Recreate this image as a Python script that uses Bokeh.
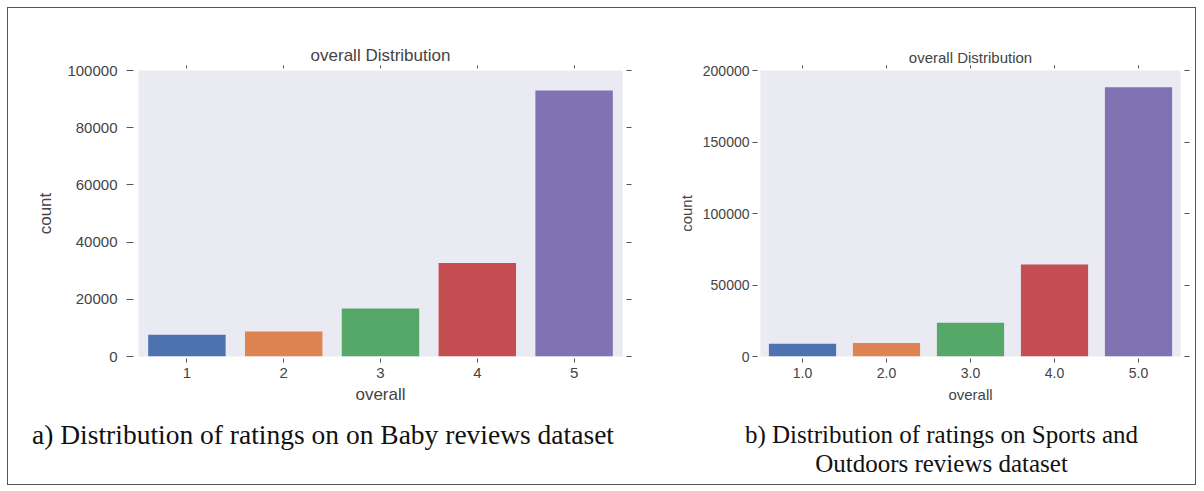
from bokeh.plotting import figure
from bokeh.models import (LinearAxis, CategoricalAxis, Div, FixedTicker,
                          ColumnDataSource, Range1d, NumeralTickFormatter)
from bokeh.layouts import column, row
from bokeh.embed import file_html
from bokeh.resources import INLINE

# ---- data ----
baby_ratings = ["1", "2", "3", "4", "5"]
baby_counts = [7600, 8700, 16800, 32700, 93000]
sports_ratings = ["1.0", "2.0", "3.0", "4.0", "5.0"]
sports_counts = [9000, 9500, 23600, 64300, 188200]
bar_colors = ["#4C72B0", "#DD8452", "#55A868", "#C44E52", "#8172B3"]
baby_yticks = [0, 20000, 40000, 60000, 80000, 100000]
sports_yticks = [0, 50000, 100000, 150000, 200000]
panel_title = "overall Distribution"
x_label = "overall"
y_label = "count"
caption_a = "a) Distribution of ratings on on Baby reviews dataset"
caption_b = ["b) Distribution of ratings on Sports and", "Outdoors reviews dataset"]

FONT = "Liberation Sans"
TXT = "#444444"


def panel(cats, counts, yticks, ymax, width, height, bl, br, bt, bb,
          tick_fs, lab_fs, title_fs, title_standoff, left_tick_len, left_gap,
          ylab_standoff, ylab_label_standoff, xlab_standoff):
    src = ColumnDataSource(dict(cat=cats, count=counts, color=bar_colors))
    p = figure(x_range=cats, y_range=Range1d(0, ymax), width=width, height=height,
               output_backend="svg", toolbar_location=None,
               min_border_left=bl, min_border_right=br, min_border_top=bt,
               min_border_bottom=bb)
    p.vbar(x="cat", top="count", width=0.8, color="color", source=src, line_color=None)
    p.background_fill_color = "#EAEAF2"
    p.border_fill_color = "white"
    p.outline_line_color = None
    p.xgrid.grid_line_color = None
    p.ygrid.grid_line_color = None

    # title
    p.title.text = panel_title
    p.title.align = "center"
    p.title.text_font = FONT
    p.title.text_font_style = "normal"
    p.title.text_font_size = title_fs
    p.title.text_color = TXT
    p.title.standoff = title_standoff

    # left axis
    ya = p.yaxis[0]
    ya.ticker = FixedTicker(ticks=yticks)
    ya.formatter = NumeralTickFormatter(format="0")
    ya.axis_line_color = None
    ya.minor_tick_line_color = None
    ya.major_tick_line_color = "#555555"
    ya.major_tick_in = -left_gap
    ya.major_tick_out = left_gap + left_tick_len
    ya.major_label_standoff = ylab_label_standoff
    ya.major_label_text_font = FONT
    ya.major_label_text_font_size = tick_fs
    ya.major_label_text_color = TXT
    ya.axis_label = y_label
    ya.axis_label_text_font = FONT
    ya.axis_label_text_font_style = "normal"
    ya.axis_label_text_font_size = lab_fs
    ya.axis_label_text_color = TXT
    ya.axis_label_standoff = ylab_standoff

    # bottom axis
    xa = p.xaxis[0]
    xa.axis_line_color = None
    xa.major_tick_line_color = "#555555"
    xa.major_tick_in = -2
    xa.major_tick_out = 6
    xa.major_label_standoff = 5
    xa.major_label_text_font = FONT
    xa.major_label_text_font_size = tick_fs
    xa.major_label_text_color = TXT
    xa.axis_label = x_label
    xa.axis_label_text_font = FONT
    xa.axis_label_text_font_style = "normal"
    xa.axis_label_text_font_size = lab_fs
    xa.axis_label_text_color = TXT
    xa.axis_label_standoff = xlab_standoff

    # mirrored ticks (top / right), no labels
    top = CategoricalAxis(axis_line_color=None, major_tick_line_color="#555555",
                          major_tick_in=-2, major_tick_out=5,
                          major_label_standoff=0,
                          major_label_overrides={c: "" for c in cats},
                          major_label_text_font_size="1px")
    p.add_layout(top, "above")
    right = LinearAxis(ticker=FixedTicker(ticks=yticks), axis_line_color=None,
                       major_tick_line_color="#555555", minor_tick_line_color=None,
                       major_tick_in=-4, major_tick_out=9,
                       major_label_overrides={t: "" for t in yticks},
                       major_label_text_font_size="1px")
    p.add_layout(right, "right")
    return p


# frames in a row are aligned by bokeh: same top/bottom borders for both
pa = panel(baby_ratings, baby_counts, baby_yticks, 100000, 632, 400,
           130, 18, 62, 52, "15px", "17px", "17px", -6, 7, 5, 9, 9, 4)
pb = panel(sports_ratings, sports_counts, sports_yticks, 200000, 555, 400,
           120, 15, 62, 52, "14px", "15px", "15px", -8, 5, 3, 5, 3, 5)

cap_style = {"font-family": "'Liberation Serif', serif", "box-sizing": "border-box",
             "line-height": "29px", "color": "#111111", "text-align": "center",
             "overflow": "hidden"}
da = Div(text=caption_a, width=632, height=76,
         styles=dict(cap_style, **{"padding-top": "7px", "padding-right": "12px",
                                   "font-size": "27.5px"}))
db = Div(text=caption_b[0] + "<br>" + caption_b[1], width=555, height=76,
         styles=dict(cap_style, **{"padding-top": "7px", "padding-left": "18px",
                                   "font-size": "25px"}))

layout = column(row(pa, pb, width=1187, height=400),
                row(da, db, width=1187, height=76),
                width=1187, height=476,
                styles={"border": "1px solid #555555", "background": "white",
                        "margin": "7px", "box-sizing": "content-box"})

open("out.html", "w").write(file_html(layout, INLINE))
